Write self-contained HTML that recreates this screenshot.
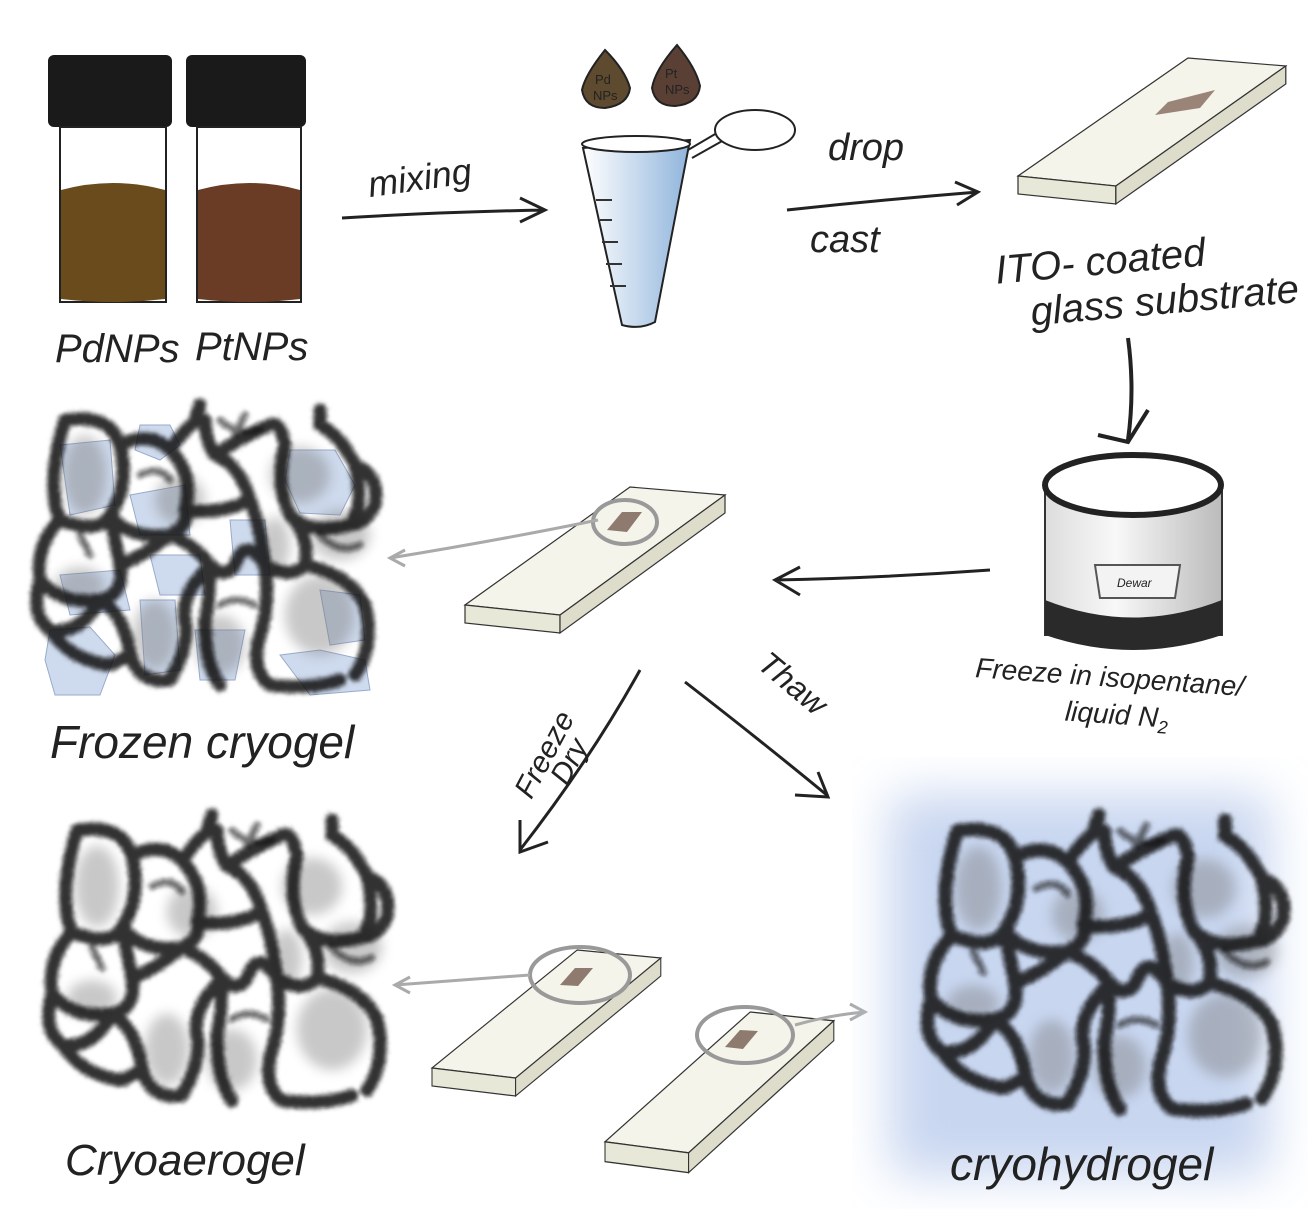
<!DOCTYPE html>
<html><head><meta charset="utf-8">
<style>
html,body{margin:0;padding:0;background:#fff;}
svg{display:block;}
.hw{font-family:"Liberation Sans",sans-serif;fill:#222;}
</style></head>
<body>
<svg width="1308" height="1209" viewBox="0 0 1308 1209" xmlns="http://www.w3.org/2000/svg">
<defs>
  <filter id="fuzz" x="-10%" y="-10%" width="120%" height="120%">
    <feTurbulence type="fractalNoise" baseFrequency="0.9" numOctaves="2" seed="3" result="n"/>
    <feDisplacementMap in="SourceGraphic" in2="n" scale="12" xChannelSelector="R" yChannelSelector="G" result="d"/>
    <feGaussianBlur in="d" stdDeviation="1.5"/>
  </filter>
  <filter id="soft"><feGaussianBlur stdDeviation="6"/></filter>
  <filter id="glow"><feGaussianBlur stdDeviation="25"/></filter>
  <linearGradient id="beaker" x1="0" x2="1" y1="0" y2="0">
    <stop offset="0" stop-color="#fff"/><stop offset="1" stop-color="#8fb4dc"/>
  </linearGradient>
  <linearGradient id="dewar" x1="0" x2="1">
    <stop offset="0" stop-color="#ddd"/><stop offset="0.4" stop-color="#f8f8f8"/><stop offset="1" stop-color="#bbb"/>
  </linearGradient>
  <g id="cells">
    <g fill="#777" opacity="0.4" filter="url(#soft)">
      <ellipse cx="65" cy="70" rx="22" ry="40"/><ellipse cx="160" cy="95" rx="25" ry="25"/>
      <ellipse cx="280" cy="70" rx="30" ry="28"/><ellipse cx="255" cy="140" rx="15" ry="28"/>
      <ellipse cx="60" cy="180" rx="25" ry="18"/><ellipse cx="135" cy="230" rx="22" ry="35"/>
      <ellipse cx="300" cy="210" rx="35" ry="40"/><ellipse cx="200" cy="240" rx="25" ry="30"/>
      <ellipse cx="320" cy="130" rx="30" ry="25"/>
    </g>
  </g>
  <g id="net" fill="none" stroke="#111" stroke-linecap="round" stroke-linejoin="round" filter="url(#fuzz)">
    <path stroke-width="13" opacity="0.85" d="M45,15 Q90,8 100,40 Q110,80 90,110 Q80,130 40,115 Q25,80 45,15 M100,40 Q130,25 150,45 Q175,70 165,105 M150,45 Q175,10 185,15 Q185,35 195,50 Q220,60 230,95 M195,50 Q225,30 250,20 Q260,15 265,40 M175,15 L180,0 M265,40 Q255,80 270,110 Q290,130 330,120 Q345,100 335,60 Q320,30 300,20 L300,5 M90,110 Q110,135 150,130 Q170,120 165,105 Q200,110 230,95 M230,95 Q240,120 245,160 Q270,175 285,160 Q290,130 270,110 M40,115 Q15,140 20,175 Q40,200 80,195 Q105,190 100,160 Q95,135 90,110 M100,160 Q125,150 150,130 M150,130 Q175,140 190,160 Q205,175 215,160 Q225,130 245,160 M80,195 Q105,210 110,250 Q120,280 150,275 Q170,240 165,215 Q160,190 190,160 M190,160 Q190,195 185,215 Q185,260 200,280 M245,160 Q250,200 240,230 Q230,265 250,280 Q290,285 320,275 M285,160 Q330,170 345,200 Q355,240 335,270 M20,175 Q10,210 30,225 Q60,230 80,195 M30,225 Q50,255 90,260 Q110,250 110,250 M335,60 Q360,70 355,100 Q345,120 330,120"/>
    <path stroke-width="7" opacity="0.6" d="M200,15 Q215,30 240,25 M215,30 L225,10 M120,70 Q140,60 150,75 M200,200 Q215,190 235,200 M60,130 L70,150 M300,130 Q320,150 340,140"/>
  </g>
  <g id="slide" stroke="#333" stroke-width="1.2">
    <polygon points="0,118 95,128 260,8 165,0" fill="#f4f4ea"/>
    <polygon points="0,118 95,128 95,146 0,136" fill="#e8e8d8"/>
    <polygon points="95,128 260,8 260,26 95,146" fill="#dedccb"/>
  </g>
</defs>

<!-- Vials -->
<g>
  <rect x="48" y="55" width="124" height="72" rx="6" fill="#1a1a1a"/>
  <rect x="60" y="127" width="106" height="175" fill="#fff" stroke="#222" stroke-width="2"/>
  <path d="M61,190 Q113,176 165,190 L165,299 Q113,305 61,299 Z" fill="#6a4c1c"/>
  <rect x="186" y="55" width="120" height="72" rx="6" fill="#1a1a1a"/>
  <rect x="197" y="127" width="104" height="175" fill="#fff" stroke="#222" stroke-width="2"/>
  <path d="M198,190 Q250,176 300,190 L300,299 Q250,305 198,299 Z" fill="#6a3c26"/>
  <text x="55" y="362" class="hw" font-size="40" font-style="italic">PdNPs</text>
  <text x="195" y="360" class="hw" font-size="40" font-style="italic">PtNPs</text>
</g>

<text x="368" y="190" class="hw" font-size="36" font-style="italic" transform="rotate(-8 420 180)">mixing</text>
<path d="M342,218 Q440,212 545,210 M520,198 L545,210 L520,222" fill="none" stroke="#222" stroke-width="3"/>

<path d="M605,50 Q585,75 582,90 Q585,108 605,108 Q628,105 630,88 Q625,70 605,50Z" fill="#5e4a2e" stroke="#222" stroke-width="2"/>
<path d="M677,45 Q655,70 652,88 Q655,106 675,106 Q698,104 700,86 Q696,68 677,45Z" fill="#5a4034" stroke="#222" stroke-width="2"/>
<text x="595" y="84" font-size="13" class="hw">Pd</text><text x="593" y="100" font-size="13" class="hw">NPs</text>
<text x="665" y="78" font-size="13" class="hw">Pt</text><text x="665" y="94" font-size="13" class="hw">NPs</text>

<path d="M583,148 L690,140 L655,322 Q640,330 622,325 Z" fill="url(#beaker)" stroke="#222" stroke-width="2"/>
<ellipse cx="636" cy="144" rx="54" ry="8" fill="#fff" stroke="#222" stroke-width="2"/>
<g stroke="#333" stroke-width="2"><line x1="596" y1="200" x2="612" y2="200"/><line x1="600" y1="220" x2="612" y2="220"/><line x1="602" y1="242" x2="618" y2="242"/><line x1="606" y1="264" x2="622" y2="264"/><line x1="610" y1="286" x2="626" y2="286"/></g>
<path d="M688,150 L722,130 M692,158 L724,140" stroke="#222" stroke-width="2"/>
<ellipse cx="755" cy="130" rx="40" ry="20" fill="#fff" stroke="#222" stroke-width="2"/>

<text x="828" y="160" class="hw" font-size="38" font-style="italic">drop</text>
<text x="810" y="252" class="hw" font-size="38" font-style="italic">cast</text>
<path d="M787,210 Q880,200 978,192 M955,182 L978,192 L957,205" fill="none" stroke="#222" stroke-width="3"/>

<!-- ITO slide -->
<use href="#slide" transform="translate(1018,58) scale(1.03,1.0)"/>
<polygon points="1168,102 1215,90 1200,108 1155,115" fill="#9a8478"/>
<text x="995" y="272" class="hw" font-size="40" font-style="italic" transform="rotate(-5 1130 260)">ITO- coated</text>
<text x="1030" y="315" class="hw" font-size="40" font-style="italic" transform="rotate(-5 1150 300)">glass substrate</text>
<path d="M1128,338 Q1135,390 1128,440 M1098,435 L1128,442 L1148,410" fill="none" stroke="#222" stroke-width="4"/>

<!-- dewar -->
<rect x="1045" y="485" width="177" height="150" fill="url(#dewar)" stroke="#333" stroke-width="2"/>
<path d="M1045,600 L1045,635 Q1133,665 1222,635 L1222,600 Q1133,635 1045,600Z" fill="#2a2a2a"/>
<ellipse cx="1133" cy="485" rx="88" ry="30" fill="#fff" stroke="#222" stroke-width="6"/>
<path d="M1095,565 L1180,565 L1175,598 L1100,598Z" fill="#f3f3f3" stroke="#555" stroke-width="2"/>
<text x="1117" y="587" font-size="12" class="hw" font-style="italic">Dewar</text>
<text x="975" y="688" class="hw" font-size="28" font-style="italic" transform="rotate(4 1130 680)">Freeze in isopentane/</text>
<text x="1065" y="725" class="hw" font-size="28" font-style="italic" transform="rotate(4 1130 715)">liquid N<tspan font-size="18" dy="6">2</tspan></text>
<path d="M990,570 Q880,578 775,580 M800,567 L775,580 L800,595" fill="none" stroke="#222" stroke-width="3"/>

<!-- middle slide -->
<use href="#slide" transform="translate(465,487)"/>
<ellipse cx="625" cy="522" rx="32" ry="22" fill="none" stroke="#999" stroke-width="4"/>
<polygon points="607,530 622,512 642,512 627,532" fill="#8f7a70"/>
<path d="M598,520 Q500,540 390,558" stroke="#aaa" stroke-width="3" fill="none"/>
<path d="M405,550 L390,558 L405,566" stroke="#aaa" stroke-width="3" fill="none"/>

<!-- Frozen cryogel -->
<g transform="translate(20,405)">
  <g fill="#c9d6ec" stroke="#8fa3c6" stroke-width="1" opacity="0.9">
    <polygon points="270,45 315,45 335,80 320,110 280,108 265,75"/>
    <polygon points="30,225 70,222 95,250 80,290 35,290 25,255"/>
    <polygon points="260,250 300,245 345,255 350,285 290,290"/>
    <polygon points="120,20 150,20 160,40 140,55 115,45"/>
    <polygon points="40,40 90,35 95,100 50,110"/>
    <polygon points="110,90 165,80 170,130 120,130"/>
    <polygon points="120,195 155,195 160,265 125,270"/>
    <polygon points="175,225 225,225 215,275 180,275"/>
    <polygon points="300,185 340,190 345,235 310,240"/>
    <polygon points="210,115 245,115 250,170 215,170"/>
    <polygon points="40,170 100,165 110,205 50,210"/>
    <polygon points="130,150 180,150 185,190 140,190"/>
  </g>
  <use href="#cells"/>
  <use href="#net"/>
</g>
<text x="50" y="758" class="hw" font-size="46" font-style="italic">Frozen cryogel</text>

<path d="M640,670 Q590,760 520,850 M520,820 L520,852 L548,842" fill="none" stroke="#222" stroke-width="3"/>
<text x="495" y="780" class="hw" font-size="30" font-style="italic" transform="rotate(-62 530 760)">Freeze</text>
<text x="545" y="770" class="hw" font-size="30" font-style="italic" transform="rotate(-62 570 760)">Dry</text>
<path d="M685,682 Q760,740 828,796 M795,795 L828,797 L818,772" fill="none" stroke="#222" stroke-width="3"/>
<text x="740" y="690" class="hw" font-size="32" font-style="italic" transform="rotate(40 780 700)">Thaw</text>

<!-- Cryoaerogel -->
<g transform="translate(32,815) scale(1.0,1.02)">
  <use href="#cells"/>
  <use href="#net"/>
</g>
<text x="65" y="1175" class="hw" font-size="44" font-style="italic">Cryoaerogel</text>

<!-- bottom slides -->
<use href="#slide" transform="translate(432,950) scale(0.88,1.0)"/>
<ellipse cx="580" cy="975" rx="50" ry="28" fill="none" stroke="#999" stroke-width="4"/>
<polygon points="560,985 575,968 593,968 578,986" fill="#8f7a70"/>
<path d="M530,975 Q460,980 395,985 M410,977 L395,985 L410,993" stroke="#aaa" stroke-width="3" fill="none"/>
<use href="#slide" transform="translate(605,1012) scale(0.88,1.1)"/>
<ellipse cx="745" cy="1035" rx="48" ry="28" fill="none" stroke="#999" stroke-width="4"/>
<polygon points="725,1047 740,1030 758,1031 743,1049" fill="#8f7a70"/>
<path d="M795,1025 Q830,1015 865,1012 M850,1004 L865,1012 L850,1020" stroke="#aaa" stroke-width="3" fill="none"/>

<!-- Cryohydrogel -->
<rect x="890" y="795" width="380" height="380" fill="#c8d6f0" filter="url(#glow)"/>
<g transform="translate(910,815) scale(1.05,1.05)">
  <use href="#cells"/>
  <use href="#net"/>
</g>
<text x="950" y="1180" class="hw" font-size="46" font-style="italic">cryohydrogel</text>
</svg>
</body></html>
